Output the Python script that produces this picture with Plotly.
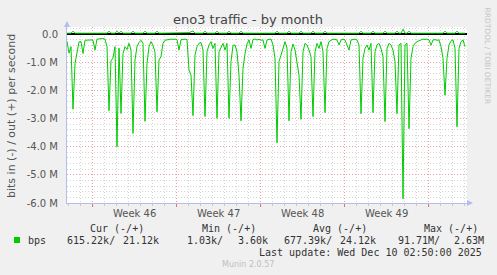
import pandas as pd
import plotly.graph_objects as go

# ---- data (Mbit/s), one point per 4 hours starting 2025-11-07 22:00 ----
in_mbps = [
    0.25, 0.68, 0.45, 2.67, 1.05, 0.69, 0.28, 0.27, 0.69, 0.22,
    0.21, 0.20, 0.21, 0.22, 0.57, 0.18, 0.17, 0.18, 0.16, 0.18,
    0.45, 2.72, 0.95, 0.85, 0.45, 4.00, 0.50, 2.82, 0.69, 0.45,
    0.55, 0.33, 0.57, 3.53, 0.92, 0.45, 0.30, 0.22, 0.33, 3.10,
    1.04, 0.45, 0.27, 0.40, 0.65, 2.76, 0.92, 0.80, 0.33, 0.22,
    0.20, 0.19, 0.18, 0.19, 0.18, 0.20, 0.57, 0.20, 0.19, 0.18,
    0.20, 1.28, 1.46, 2.90, 0.75, 0.45, 0.33, 0.30, 0.57, 2.93,
    0.63, 0.39, 0.27, 0.51, 0.33, 2.99, 0.63, 0.45, 0.33, 0.57,
    0.33, 2.99, 0.98, 0.40, 0.39, 0.63, 1.46, 3.08, 1.22, 0.70,
    0.35, 0.21, 0.51, 0.19, 0.18, 0.21, 0.19, 0.22, 0.21, 0.51,
    0.21, 0.19, 0.18, 0.39, 0.86, 3.86, 0.98, 0.75, 0.51, 0.27,
    0.50, 3.08, 0.63, 0.35, 0.57, 1.10, 1.46, 3.03, 0.63, 0.33,
    0.39, 0.57, 0.80, 2.93, 0.63, 0.33, 0.51, 0.27, 0.63, 2.79,
    0.51, 0.27, 0.21, 0.18, 0.19, 0.21, 0.39, 0.21, 0.18, 0.21,
    0.39, 0.57, 0.21, 0.19, 0.18, 0.21, 0.39, 2.83, 0.86, 0.51,
    0.39, 0.57, 0.33, 2.79, 0.63, 0.39, 0.33, 0.51, 0.80, 3.11,
    0.51, 0.33, 0.39, 0.57, 0.98, 2.83, 0.39, 0.33, 5.85, 0.39,
    0.33, 3.36, 0.86, 0.45, 0.33, 0.27, 0.24, 0.21, 0.18, 0.19,
    0.18, 0.21, 0.40, 0.21, 0.20, 0.22, 0.21, 0.45, 0.86, 2.17,
    0.86, 0.39, 0.25, 0.21, 0.51, 3.29, 0.51, 0.27, 0.21, 0.45,
]
out_mbps = [
    0.03, 0.03, 0.03, 0.10, 0.03, 0.03, 0.03, 0.03, 0.03, 0.03,
    0.03, 0.03, 0.03, 0.03, 0.03, 0.03, 0.03, 0.03, 0.03, 0.03,
    0.03, 0.10, 0.03, 0.03, 0.03, 0.10, 0.03, 0.10, 0.03, 0.03,
    0.03, 0.03, 0.03, 0.10, 0.03, 0.03, 0.03, 0.03, 0.03, 0.10,
    0.03, 0.03, 0.03, 0.03, 0.03, 0.10, 0.03, 0.03, 0.03, 0.03,
    0.03, 0.03, 0.03, 0.03, 0.03, 0.03, 0.03, 0.03, 0.03, 0.03,
    0.03, 0.05, 0.08, 0.11, 0.03, 0.03, 0.03, 0.03, 0.03, 0.10,
    0.03, 0.03, 0.03, 0.03, 0.03, 0.10, 0.03, 0.03, 0.03, 0.03,
    0.03, 0.10, 0.03, 0.03, 0.03, 0.03, 0.03, 0.10, 0.03, 0.03,
    0.03, 0.03, 0.03, 0.03, 0.03, 0.03, 0.03, 0.03, 0.03, 0.03,
    0.03, 0.03, 0.03, 0.03, 0.03, 0.10, 0.03, 0.03, 0.03, 0.03,
    0.03, 0.10, 0.03, 0.03, 0.03, 0.03, 0.03, 0.10, 0.03, 0.03,
    0.03, 0.03, 0.03, 0.10, 0.03, 0.03, 0.03, 0.03, 0.03, 0.10,
    0.03, 0.03, 0.03, 0.03, 0.03, 0.03, 0.03, 0.03, 0.03, 0.03,
    0.03, 0.03, 0.03, 0.03, 0.03, 0.03, 0.03, 0.10, 0.03, 0.03,
    0.03, 0.03, 0.03, 0.10, 0.03, 0.03, 0.03, 0.03, 0.03, 0.10,
    0.03, 0.03, 0.03, 0.03, 0.03, 0.10, 0.03, 0.03, 0.17, 0.03,
    0.03, 0.10, 0.03, 0.03, 0.03, 0.03, 0.03, 0.03, 0.03, 0.03,
    0.03, 0.03, 0.03, 0.03, 0.03, 0.03, 0.03, 0.03, 0.03, 0.10,
    0.03, 0.03, 0.03, 0.03, 0.03, 0.10, 0.03, 0.03, 0.03, 0.03,
]
start_time = "2025-11-07 22:00"
step = "4h"

week_starts = ["2025-11-10", "2025-11-17", "2025-11-24", "2025-12-01", "2025-12-08"]
week_labels = ["Week 46", "Week 47", "Week 48", "Week 49"]
ytick_vals = [0, -1e6, -2e6, -3e6, -4e6, -5e6, -6e6]
ytick_text = ["0.0", "-1.0 M", "-2.0 M", "-3.0 M", "-4.0 M", "-5.0 M", "-6.0 M"]

legend_headers = ["Cur (-/+)", "Min (-/+)", "Avg (-/+)", "Max (-/+)"]
legend_in = ["615.22k/", "1.03k/", "677.39k/", "91.71M/"]
legend_out = ["21.12k", "3.60k", "24.12k", "2.63M"]

# ---- build ----
times = pd.date_range(start_time, periods=len(in_mbps), freq=step)
GREEN = "#00CC00"
AXIS = "#b4bcf0"

fig = go.Figure()
fig.add_trace(go.Scatter(x=times, y=[-v * 1e6 for v in in_mbps], mode="lines",
                         line=dict(color=GREEN, width=1), hoverinfo="skip"))
fig.add_trace(go.Scatter(x=times, y=[v * 1e6 for v in out_mbps], mode="lines",
                         line=dict(color=GREEN, width=1), hoverinfo="skip"))

L, R, T, B = 67, 467, 27, 203
W, H = 497, 275


def px(x):
    return (x - L) / (R - L)


def py(y):
    return (B - y) / (B - T)


fig.update_layout(
    width=W, height=H,
    margin=dict(l=L, r=W - R, t=T, b=H - B, pad=0),
    paper_bgcolor="#F0F0F0", plot_bgcolor="white",
    showlegend=False,
    font=dict(family="DejaVu Sans", color="#555555", size=10),
)

fig.update_xaxes(
    type="date",
    range=[pd.Timestamp("2025-11-07 22:00"), pd.Timestamp("2025-12-11 06:00")],
    tickmode="array", tickvals=week_starts, ticktext=["" for _ in week_starts],
    showgrid=True, gridcolor="#e8a0a0", griddash="1px,2px", gridwidth=1,
    minor=dict(tickmode="linear", tick0="2025-11-10", dtick=86400000,
               showgrid=True, gridcolor="#d4d4d4", griddash="1px,2px", gridwidth=1,
               ticks="outside", ticklen=2, tickcolor="#c8c8c8"),
    ticks="outside", ticklen=3, tickcolor="#e07070",
    showline=True, linecolor=AXIS, linewidth=1,
    zeroline=False, fixedrange=True,
)
fig.update_yaxes(
    range=[-6.0e6, 0.25e6],
    tickmode="array", tickvals=ytick_vals, ticktext=ytick_text,
    showgrid=True, gridcolor="#e8a0a0", griddash="1px,2px", gridwidth=1,
    minor=dict(tickmode="linear", tick0=0, dtick=200000,
               showgrid=True, gridcolor="#d4d4d4", griddash="1px,2px", gridwidth=1),
    ticks="", ticklabelstandoff=6,
    showline=True, linecolor=AXIS, linewidth=1,
    zeroline=True, zerolinecolor="black", zerolinewidth=2,
    tickfont=dict(size=10, color="#555555"), fixedrange=True,
)

# axis arrows
fig.add_shape(type="path", xref="paper", yref="paper",
              path=f"M {px(64)} {py(27)} L {px(70)} {py(27)} L {px(67)} {py(21)} Z",
              fillcolor=AXIS, line=dict(width=0))
fig.add_shape(type="path", xref="paper", yref="paper",
              path=f"M {px(467)} {py(200)} L {px(467)} {py(206)} L {px(473)} {py(203)} Z",
              fillcolor=AXIS, line=dict(width=0))

ann = []
# title
ann.append(dict(text="eno3 traffic - by month", x=px(248), y=py(19), xref="paper", yref="paper",
                xanchor="center", yanchor="middle", showarrow=False,
                font=dict(size=13, color="#444444", family="DejaVu Sans")))
# y title
ann.append(dict(text="bits in (-) / out (+) per second", x=px(12), y=py(116),
                xref="paper", yref="paper", xanchor="center", yanchor="middle",
                textangle=-90, showarrow=False,
                font=dict(size=11, color="#555555", family="DejaVu Sans")))
# rrdtool credit
ann.append(dict(text="RRDTOOL / TOBI OETIKER", x=px(487), y=py(5), xref="paper", yref="paper",
                xanchor="center", yanchor="top", textangle=90, showarrow=False,
                font=dict(size=7.5, color="#c4c4c4", family="DejaVu Sans")))
# week labels
for i, lab in enumerate(week_labels):
    mid = pd.Timestamp(week_starts[i]) + pd.Timedelta(hours=84)
    ann.append(dict(text=lab, x=mid, y=py(213), xref="x", yref="paper",
                    xanchor="center", yanchor="middle", showarrow=False,
                    font=dict(size=10, color="#555555", family="DejaVu Sans")))

mono = dict(family="DejaVu Sans Mono", size=10, color="#333333")
header_x = [89, 201, 312, 423]
in_x = [66, 186, 283, 397]
out_x = [122, 237, 339, 453]
for i in range(4):
    ann.append(dict(text=legend_headers[i], x=px(header_x[i]), y=py(228), xref="paper", yref="paper",
                    xanchor="left", yanchor="middle", showarrow=False, font=mono, borderpad=0))
    ann.append(dict(text=legend_in[i], x=px(in_x[i]), y=py(240), xref="paper", yref="paper",
                    xanchor="left", yanchor="middle", showarrow=False, font=mono, borderpad=0))
    ann.append(dict(text=legend_out[i], x=px(out_x[i]), y=py(240), xref="paper", yref="paper",
                    xanchor="left", yanchor="middle", showarrow=False, font=mono, borderpad=0))
ann.append(dict(text="bps", x=px(27), y=py(240), xref="paper", yref="paper",
                xanchor="left", yanchor="middle", showarrow=False, font=mono, borderpad=0))
ann.append(dict(text="Last update: Wed Dec 10 02:50:00 2025", x=px(483), y=py(252),
                xref="paper", yref="paper", xanchor="right", yanchor="middle",
                showarrow=False, font=mono, borderpad=0))
ann.append(dict(text="Munin 2.0.57", x=px(248), y=py(264), xref="paper", yref="paper",
                xanchor="center", yanchor="middle", showarrow=False,
                font=dict(size=8, color="#c0c0c0", family="DejaVu Sans")))
fig.update_layout(annotations=ann)

# legend colour square
fig.add_shape(type="rect", xref="paper", yref="paper",
              x0=px(14), x1=px(20), y0=py(243), y1=py(237),
              fillcolor=GREEN, line=dict(width=0))

fig.write_html("out.html")
